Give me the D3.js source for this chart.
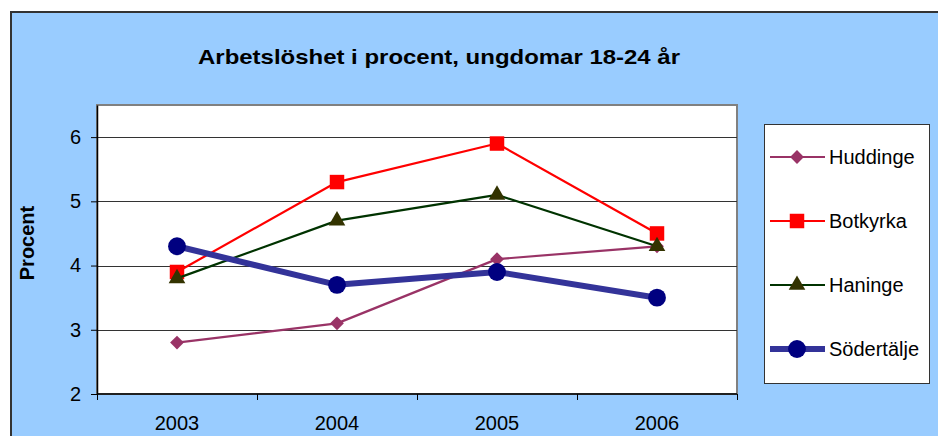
<!DOCTYPE html>
<html>
<head>
<meta charset="utf-8">
<script src="https://cdn.jsdelivr.net/npm/d3@7"></script>
<style>
  body { margin: 0; background: #fff; }
  text { font-family: "Liberation Sans", Arial, sans-serif; }
</style>
</head>
<body>
<script>
const years = ["2003", "2004", "2005", "2006"]
const yTicks = [2, 3, 4, 5, 6]
const huddinge = [2.8, 3.1, 4.1, 4.3]
const botkyrka = [3.9, 5.3, 5.9, 4.5]
const haninge = [3.8, 4.7, 5.1, 4.3]
const sodertalje = [4.3, 3.7, 3.9, 3.5]
const seriesNames = ["Huddinge", "Botkyrka", "Haninge", "Södertälje"]

// diamond = square turned 45 degrees
const series = [
    { name: seriesNames[0], values: huddinge, line: "#993366", fill: "#993366", width: 2.2, symbol: d3.symbolSquare, size: 95, rot: 45 },
    { name: seriesNames[1], values: botkyrka, line: "#ff0000", fill: "#ff0000", width: 2.2, symbol: d3.symbolSquare, size: 210, rot: 0 },
    { name: seriesNames[2], values: haninge, line: "#003300", fill: "#333300", width: 2.2, symbol: d3.symbolTriangle, size: 120, rot: 0 },
    { name: seriesNames[3], values: sodertalje, line: "#333399", fill: "#000080", width: 6, symbol: d3.symbolCircle, size: 250, rot: 0 }
]

const svg = d3.select("body").append("svg")
    .attr("width", 938)
    .attr("height", 436)

// chart area
svg.append("rect")
    .attr("x", 11).attr("y", 12)
    .attr("width", 940).attr("height", 440)
    .attr("fill", "#99ccff")
    .attr("stroke", "#333")
    .attr("stroke-width", 2)

const plotL = 97, plotR = 737, plotT = 105, plotB = 394

const x = d3.scaleBand().domain(years).range([plotL, plotR])
const y = d3.scaleLinear().domain([2, 6.5]).range([plotB, plotT])

svg.append("rect")
    .attr("x", plotL).attr("y", plotT)
    .attr("width", plotR - plotL).attr("height", plotB - plotT)
    .attr("fill", "#fff")
    .attr("stroke", "#808080")
    .attr("stroke-width", 2)

// gridlines
svg.append("g").selectAll("line")
    .data(yTicks.filter(d => d > 2))
    .enter().append("line")
    .attr("x1", plotL).attr("x2", plotR)
    .attr("y1", d => Math.round(y(d)) + 0.5).attr("y2", d => Math.round(y(d)) + 0.5)
    .attr("stroke", "#333")
    .attr("stroke-width", 1)

// y axis
const yAxis = svg.append("g")
    .attr("transform", `translate(${plotL},0)`)
    .call(d3.axisLeft(y).tickValues(yTicks).tickSize(6).tickSizeOuter(0).tickPadding(10).tickFormat(d3.format("d")))
yAxis.select(".domain").attr("stroke", "#000").attr("stroke-width", 1.5)
yAxis.selectAll(".tick line").attr("stroke", "#000")
yAxis.selectAll("text").attr("font-size", 20).attr("fill", "#000")
    .attr("font-family", "Liberation Sans, Arial, sans-serif")

// x axis, ticks between categories
const xg = svg.append("g").attr("transform", `translate(0,${plotB})`)
xg.append("line")
    .attr("x1", plotL).attr("x2", plotR)
    .attr("y1", 0).attr("y2", 0)
    .attr("stroke", "#000").attr("stroke-width", 1.5)
xg.selectAll(".tk")
    .data(years.map(d => x(d)).concat([plotR]))
    .enter().append("line")
    .attr("class", "tk")
    .attr("x1", d => Math.round(d) + 0.5).attr("x2", d => Math.round(d) + 0.5)
    .attr("y1", 0).attr("y2", 6)
    .attr("stroke", "#000")
xg.selectAll("text")
    .data(years)
    .enter().append("text")
    .attr("x", d => x(d) + x.bandwidth() / 2)
    .attr("y", 36)
    .attr("text-anchor", "middle")
    .attr("font-size", 20)
    .text(d => d)

// title
svg.append("text")
    .attr("x", 439).attr("y", 64)
    .attr("text-anchor", "middle")
    .attr("font-size", 21)
    .attr("font-weight", "bold")
    .attr("textLength", 482)
    .attr("lengthAdjust", "spacingAndGlyphs")
    .text("Arbetslöshet i procent, ungdomar 18-24 år")

svg.append("text")
    .attr("transform", "translate(34,243) rotate(-90)")
    .attr("text-anchor", "middle")
    .attr("font-size", 20)
    .attr("font-weight", "bold")
    .text("Procent")

// lines and markers
const line = d3.line()
    .x((d, i) => x(years[i]) + x.bandwidth() / 2)
    .y(d => y(d))

series.forEach(s => {
    const g = svg.append("g")
    g.append("path")
        .datum(s.values)
        .attr("d", line)
        .attr("fill", "none")
        .attr("stroke", s.line)
        .attr("stroke-width", s.width)
        .attr("stroke-linejoin", "round")
    g.selectAll("path.m")
        .data(s.values)
        .enter().append("path")
        .attr("class", "m")
        .attr("d", d3.symbol().type(s.symbol).size(s.size))
        .attr("transform", (d, i) => `translate(${x(years[i]) + x.bandwidth() / 2},${y(d)}) rotate(${s.rot})`)
        .attr("fill", s.fill)
})

// legend
svg.append("rect")
    .attr("x", 764.5).attr("y", 124.5)
    .attr("width", 165).attr("height", 259)
    .attr("fill", "#fff")
    .attr("stroke", "#333")
    .attr("stroke-width", 1)

const legendY = d3.scalePoint().domain(seriesNames).range([157, 349])
const lg = svg.append("g").selectAll("g")
    .data(series)
    .enter().append("g")
    .attr("transform", d => `translate(0,${legendY(d.name)})`)
lg.append("line")
    .attr("x1", 770).attr("x2", 825)
    .attr("stroke", d => d.line)
    .attr("stroke-width", d => d.width)
lg.append("path")
    .attr("d", d => d3.symbol().type(d.symbol).size(d.size)())
    .attr("transform", d => `translate(797,0) rotate(${d.rot})`)
    .attr("fill", d => d.fill)
lg.append("text")
    .attr("x", 829)
    .attr("dy", "0.35em")
    .attr("font-size", 20)
    .text(d => d.name)
</script>
</body>
</html>
